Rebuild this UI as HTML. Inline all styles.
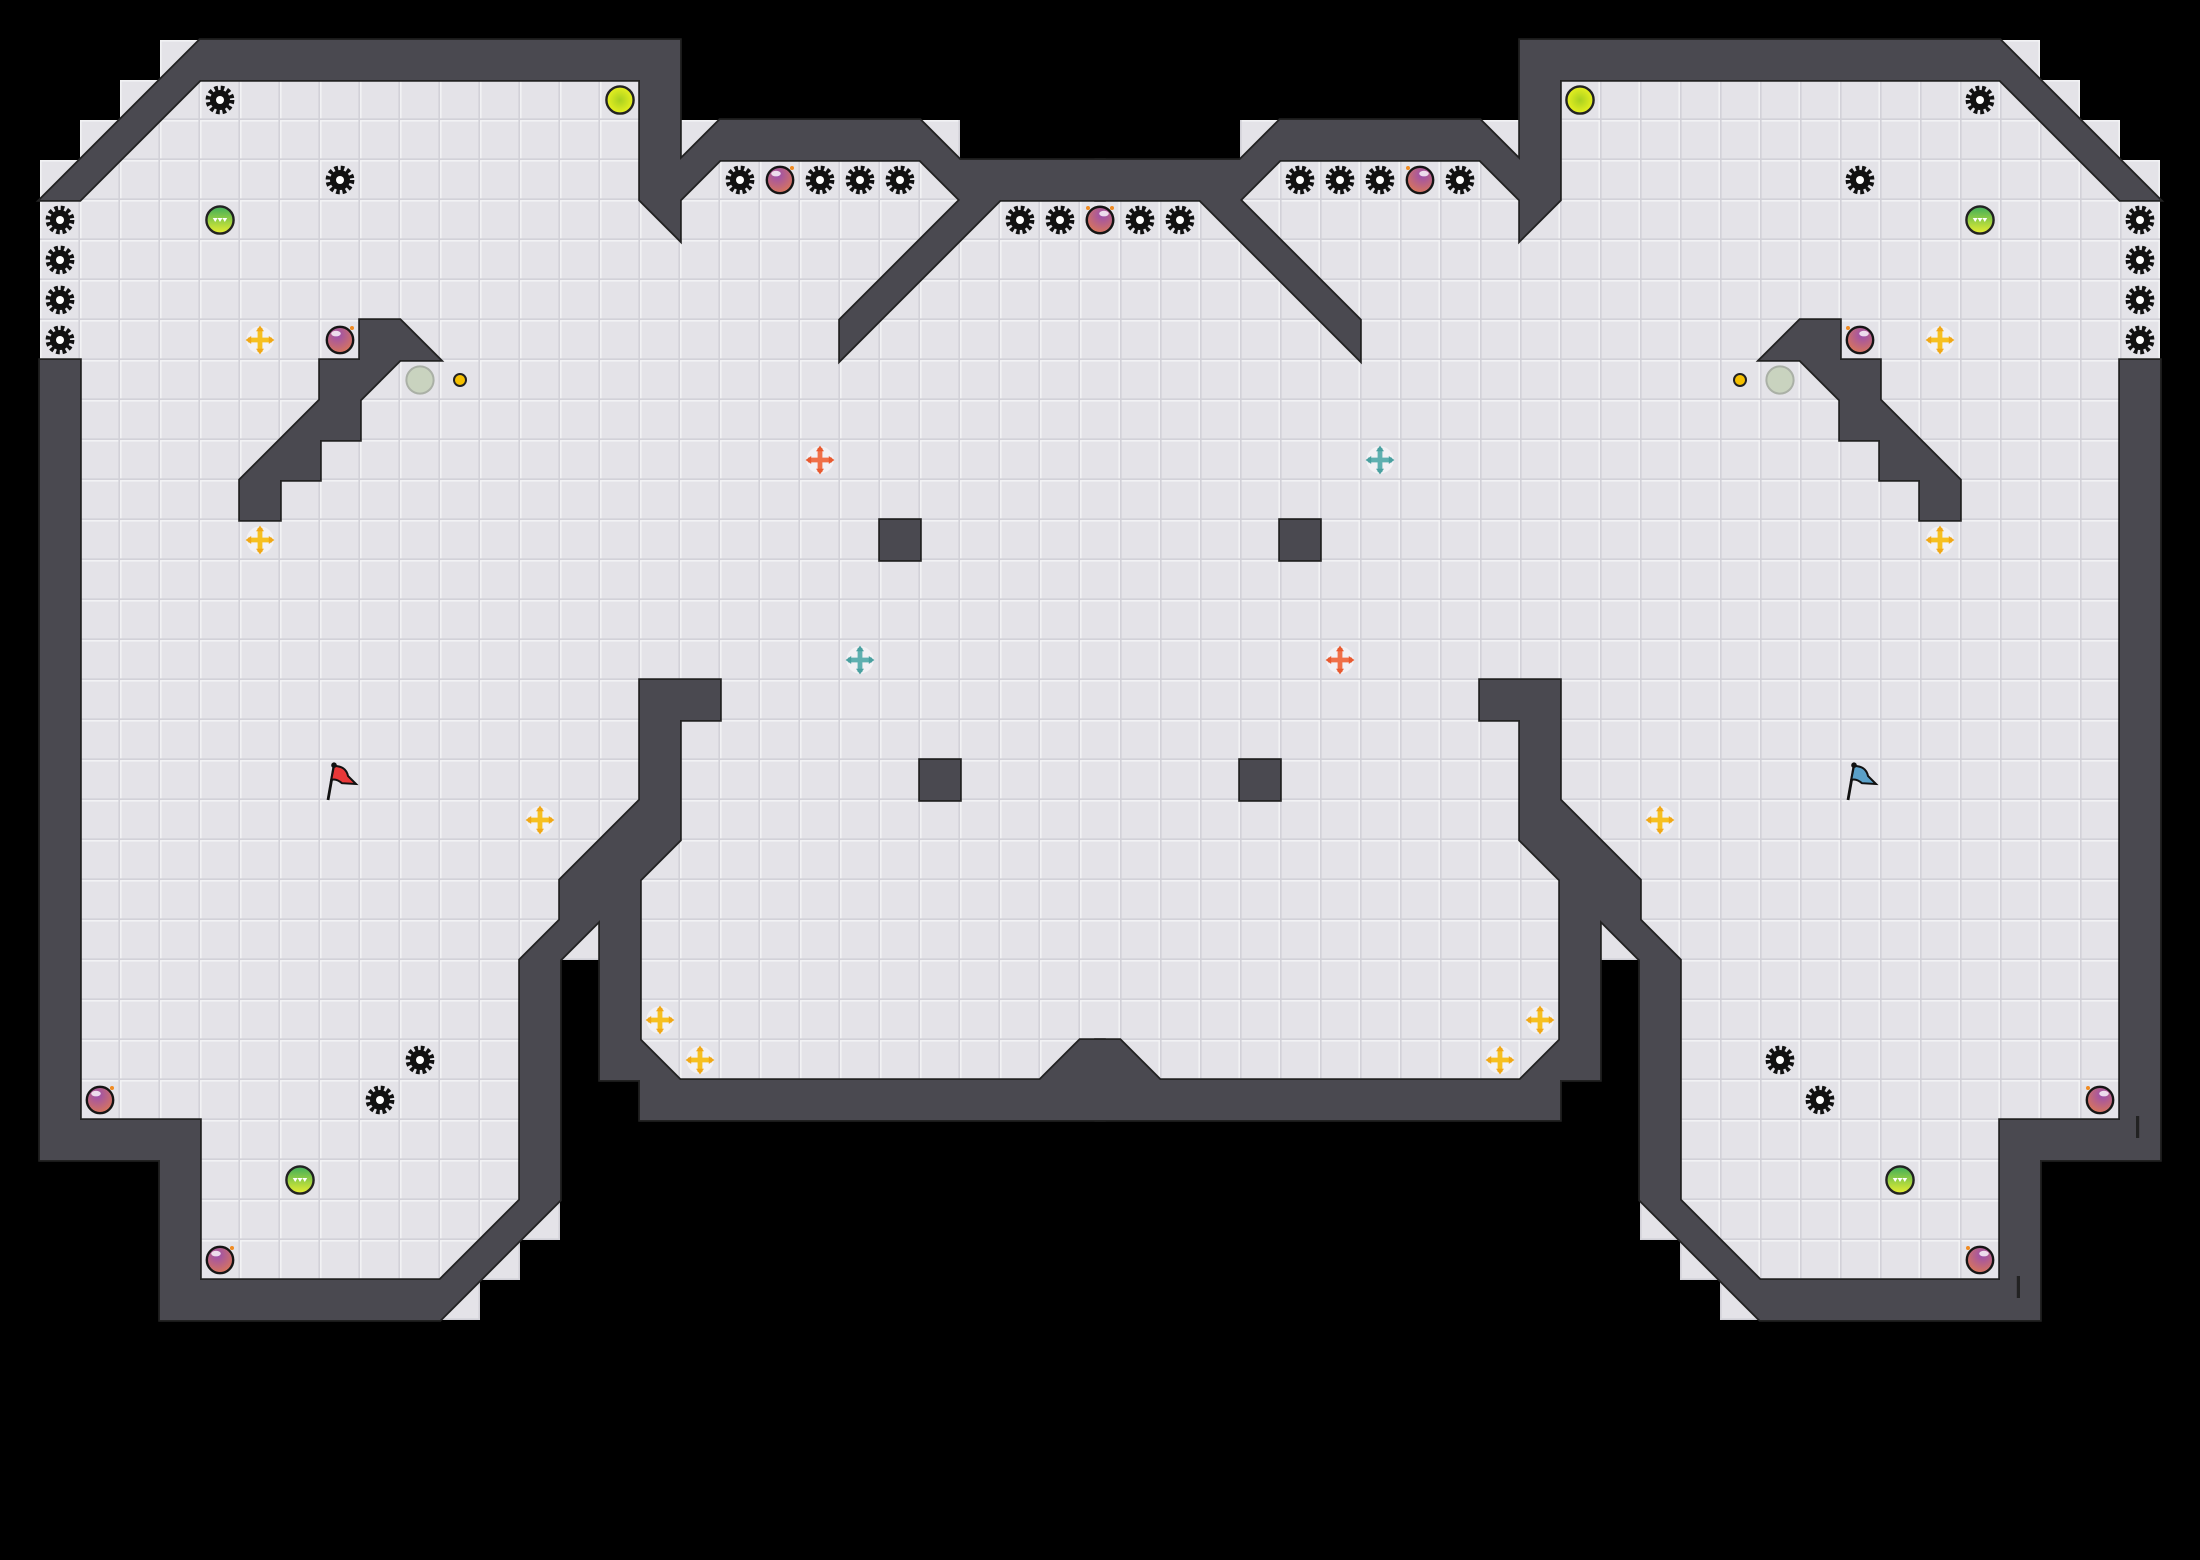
<!DOCTYPE html>
<html><head><meta charset="utf-8"><style>html,body{margin:0;padding:0;background:#000}svg{display:block}</style></head>
<body>
<svg width="2200" height="1560" viewBox="0 0 55 39" xmlns="http://www.w3.org/2000/svg">
<defs>
<pattern id="grid" x="0" y="0" width="1" height="1" patternUnits="userSpaceOnUse">
<rect width="1" height="1" fill="#e4e3e8"/>
<path d="M0 0.02H1M0.02 0V1" stroke="#f2f2f4" stroke-width="0.04"/>
<path d="M0 0.98H1M0.98 0V1" stroke="#d2d1d8" stroke-width="0.04"/>
</pattern>
<radialGradient id="bombG" cx="0.4" cy="0.3" r="0.8"><stop offset="0" stop-color="#9a4fb0"/><stop offset="1" stop-color="#e07a50"/></radialGradient>
<linearGradient id="greenG" x1="0" y1="0" x2="0" y2="1"><stop offset="0" stop-color="#3fae5a"/><stop offset="1" stop-color="#e8ee30"/></linearGradient>
<radialGradient id="limeG" cx="0.5" cy="0.5" r="0.5"><stop offset="0" stop-color="#a8d020"/><stop offset="1" stop-color="#e8f020"/></radialGradient>
<g id="spike"><circle r="0.25" fill="#111"/><circle r="0.3" fill="none" stroke="#111" stroke-width="0.12" stroke-dasharray="0.09 0.068"/><circle r="0.1" fill="#fff"/></g>
<g id="bomb"><circle r="0.33" fill="url(#bombG)" stroke="#151515" stroke-width="0.06"/><ellipse cx="-0.1" cy="-0.16" rx="0.12" ry="0.07" fill="#fff" opacity="0.8"/><circle cx="0.3" cy="-0.3" r="0.05" fill="#f08a20"/></g>
<g id="lime"><circle r="0.34" fill="url(#limeG)" stroke="#222" stroke-width="0.06"/></g>
<g id="green"><circle r="0.34" fill="url(#greenG)" stroke="#222" stroke-width="0.06"/><path d="M-0.18 -0.05L-0.12 0.05L-0.06 -0.05L0 0.05L0.06 -0.05L0.12 0.05L0.18 -0.05Z" fill="#fff"/></g>
<g id="portal"><circle r="0.34" fill="#c9d3bf" stroke="#aab0a6" stroke-width="0.05"/></g>
<g id="dot"><circle r="0.15" fill="#f5c000" stroke="#222" stroke-width="0.05"/></g>
<g id="boostY"><circle r="0.34" fill="#fff" opacity="0.5"/><path d="M0 -0.3V0.3M-0.3 0H0.3" stroke="#f6c020" stroke-width="0.12"/><path d="M0 -0.36L-0.1 -0.22H0.1ZM0 0.36L-0.1 0.22H0.1ZM-0.36 0L-0.22 -0.1V0.1ZM0.36 0L0.22 -0.1V0.1Z" fill="#f0a818"/></g>
<g id="boostR"><circle r="0.34" fill="#fff" opacity="0.5"/><path d="M0 -0.3V0.3M-0.3 0H0.3" stroke="#f07048" stroke-width="0.12"/><path d="M0 -0.36L-0.1 -0.22H0.1ZM0 0.36L-0.1 0.22H0.1ZM-0.36 0L-0.22 -0.1V0.1ZM0.36 0L0.22 -0.1V0.1Z" fill="#e85a30"/></g>
<g id="boostB"><circle r="0.34" fill="#fff" opacity="0.5"/><path d="M0 -0.3V0.3M-0.3 0H0.3" stroke="#5fb0b0" stroke-width="0.12"/><path d="M0 -0.36L-0.1 -0.22H0.1ZM0 0.36L-0.1 0.22H0.1ZM-0.36 0L-0.22 -0.1V0.1ZM0.36 0L0.22 -0.1V0.1Z" fill="#4aa0a0"/></g>
<g id="floor">
<polygon fill="url(#grid)" points="4,1 17,1 17,3 24,3 24,4 27.6,4 27.6,28 16,28 16,27 15,27 15,24 14,24 14,31 13,31 13,32 12,32 12,33 4,33 4,29 1,29 1,4 2,4 2,3 3,3 3,2 4,2"/>
</g>
<g id="walls">
<polygon points="1,5 5,1 17,1 17,4 18,3 23,3 24,4 27.6,4 27.6,5 25,5 21,9 21,8 24,5 23,4 18,4 17,5 17,6 16,5 16,2 5,2 2,5"/>
<polygon points="1,9 2,9 2,28 5,28 5,32 11,32 13,30 13,24 14,23 14,22 16,20 16,17 18,17 18,18 17,18 17,21 16,22 16,26 17,27 26,27 27,26 27.6,26 27.6,28 16,28 16,27 15,27 15,23 14,24 14,30 11,33 4,33 4,29 1,29"/>
<polygon points="9,8 10,8 11,9 10,9 9,10 9,11 8,11 8,12 7,12 7,13 6,13 6,12 8,10 8,9 9,9"/>
<rect x="22" y="13" width="1" height="1"/>
<rect x="23" y="19" width="1" height="1"/>
</g>
<g id="ents">
<use href="#spike" x="5.5" y="2.5"/><use href="#lime" x="15.5" y="2.5"/><use href="#spike" x="8.5" y="4.5"/>
<use href="#green" x="5.5" y="5.5"/>
<use href="#spike" x="1.5" y="5.5"/><use href="#spike" x="1.5" y="6.5"/><use href="#spike" x="1.5" y="7.5"/><use href="#spike" x="1.5" y="8.5"/>
<use href="#boostY" x="6.5" y="8.5"/><use href="#bomb" x="8.5" y="8.5"/>
<use href="#portal" x="10.5" y="9.5"/><use href="#dot" x="11.5" y="9.5"/>
<use href="#boostY" x="6.5" y="13.5"/><use href="#boostY" x="13.5" y="20.5"/>
<use href="#boostY" x="16.5" y="25.5"/><use href="#boostY" x="17.5" y="26.5"/>
<use href="#spike" x="10.5" y="26.5"/><use href="#spike" x="9.5" y="27.5"/>
<use href="#bomb" x="2.5" y="27.5"/><use href="#green" x="7.5" y="29.5"/><use href="#bomb" x="5.5" y="31.5"/>
<use href="#spike" x="18.5" y="4.5"/><use href="#bomb" x="19.5" y="4.5"/><use href="#spike" x="20.5" y="4.5"/><use href="#spike" x="21.5" y="4.5"/><use href="#spike" x="22.5" y="4.5"/>
<use href="#spike" x="25.5" y="5.5"/><use href="#spike" x="26.5" y="5.5"/><use href="#bomb" x="27.5" y="5.5"/>
</g>
</defs>
<rect width="55" height="39" fill="#000"/>
<use href="#floor"/>
<g transform="matrix(-1 0 0 1 55 0)"><use href="#floor"/></g>
<g fill="#222" stroke="#222" stroke-width="0.09" stroke-linejoin="miter">
<use href="#walls"/>
<g transform="matrix(-1 0 0 1 55 0)"><use href="#walls"/></g>
</g>
<g fill="#4a4950">
<use href="#walls"/>
<g transform="matrix(-1 0 0 1 55 0)"><use href="#walls"/></g>
</g>
<use href="#ents"/>
<g transform="matrix(-1 0 0 1 55 0)"><use href="#ents"/></g>
<use href="#boostR" x="20.5" y="11.5"/><use href="#boostB" x="21.5" y="16.5"/>
<use href="#boostB" x="34.5" y="11.5"/><use href="#boostR" x="33.5" y="16.5"/>
<g transform="translate(8.5,19.5)"><path d="M-0.3 0.5L-0.15 -0.35" stroke="#111" stroke-width="0.07"/><path d="M-0.15 -0.35Q0.15 -0.35 0.2 -0.1L0.4 0.1L0.05 0.08Q-0.1 -0.05 -0.22 0Z" fill="#e83838" stroke="#111" stroke-width="0.05"/><circle cx="-0.15" cy="-0.37" r="0.07" fill="#111"/></g>
<g transform="translate(46.5,19.5)"><path d="M-0.3 0.5L-0.15 -0.35" stroke="#111" stroke-width="0.07"/><path d="M-0.15 -0.35Q0.15 -0.35 0.2 -0.1L0.4 0.1L0.05 0.08Q-0.1 -0.05 -0.22 0Z" fill="#5aa0c8" stroke="#111" stroke-width="0.05"/><circle cx="-0.15" cy="-0.37" r="0.07" fill="#111"/></g>
<rect x="53.4" y="27.9" width="0.08" height="0.55" fill="#222"/>
<rect x="50.42" y="31.9" width="0.08" height="0.55" fill="#222"/>
</svg>
</body></html>
